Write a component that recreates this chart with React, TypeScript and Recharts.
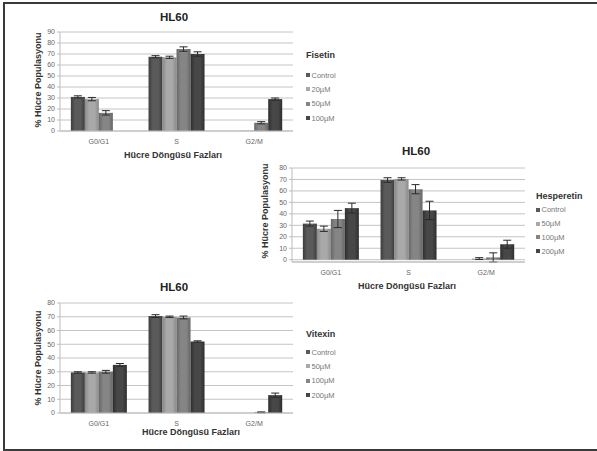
import React from 'react';
import { BarChart, Bar, XAxis, YAxis, CartesianGrid, ErrorBar } from 'recharts';

const phases = ['G0/G1', 'S', 'G2/M'];
const chartTitle = 'HL60';
const xTitle = 'Hücre Döngüsü Fazları';
const yTitle = '% Hücre Populasyonu';

// Fisetin
const fisetinDoses = ['Control', '20µM', '50µM', '100µM'];
const fisetinControl = [31, 67.5, 0];
const fisetin20 = [29, 67, 0.3];
const fisetin50 = [16.5, 74.5, 7.5];
const fisetin100 = [0, 70, 29];
const fisetinControlErr = [1, 1, 0];
const fisetin20Err = [1.5, 1, 0];
const fisetin50Err = [2, 2, 1];
const fisetin100Err = [0, 2, 1];
const fisetinTicks = [0, 10, 20, 30, 40, 50, 60, 70, 80, 90];

// Hesperetin
const hesperetinDoses = ['Control', '50µM', '100µM', '200µM'];
const hesperetinControl = [31.5, 69.5, 0];
const hesperetin50 = [27, 70.5, 1];
const hesperetin100 = [35.5, 61.5, 2];
const hesperetin200 = [45, 43, 13.5];
const hesperetinControlErr = [2.2, 2, 0];
const hesperetin50Err = [2.3, 1, 0.8];
const hesperetin100Err = [7.5, 4, 4];
const hesperetin200Err = [4.3, 8, 3.5];
const hesperetinTicks = [0, 10, 20, 30, 40, 50, 60, 70, 80];

// Vitexin
const vitexinDoses = ['Control', '50µM', '100µM', '200µM'];
const vitexinControl = [29.5, 70.5, 0];
const vitexin50 = [29.5, 70, 0];
const vitexin100 = [30, 69.5, 0.5];
const vitexin200 = [35, 52, 13];
const vitexinControlErr = [0.5, 1, 0];
const vitexin50Err = [0.5, 0.5, 0];
const vitexin100Err = [1, 1, 0.3];
const vitexin200Err = [1, 0.5, 1.5];
const vitexinTicks = [0, 10, 20, 30, 40, 50, 60, 70, 80];

const barColors = ['#5a5a5a', '#a9a9a9', '#858585', '#474747'];
const edgeColors = ['#3c3c3c', '#8a8a8a', '#666666', '#2e2e2e'];

const FONT = '"Liberation Sans", Arial, sans-serif';

function buildRows(series: number[][], errs: number[][]) {
  return phases.map((p, i) => {
    const row: any = { phase: p };
    series.forEach((s, k) => {
      row['v' + k] = s[i];
      row['e' + k] = errs[k][i];
    });
    return row;
  });
}

type PanelProps = {
  id: string;
  left: number;
  top: number;
  width: number;
  height: number;
  margin: { top: number; right: number; left: number; bottom: number };
  rows: any[];
  yMax: number;
  ticks: number[];
  doses: string[];
  legendTitle: string;
  titlePos: [number, number];
  xTitlePos: [number, number];
  yTitlePos: [number, number];
  legendPos: [number, number];
  legendStep: number;
  legendGap: number;
};

function Panel(p: PanelProps) {
  return (
    <>
      <div style={{ position: 'absolute', left: p.left, top: p.top }}>
        <BarChart
          width={p.width}
          height={p.height}
          data={p.rows}
          margin={p.margin}
          barCategoryGap="14%"
          barGap={0}
        >
          <defs>
            {barColors.map((c, k) => (
              <linearGradient key={k} id={`${p.id}g${k}`} x1="0" y1="0" x2="1" y2="0">
                <stop offset="0%" stopColor={edgeColors[k]} />
                <stop offset="30%" stopColor={c} />
                <stop offset="70%" stopColor={c} />
                <stop offset="100%" stopColor={edgeColors[k]} />
              </linearGradient>
            ))}
          </defs>
          <CartesianGrid vertical={false} stroke="#c4c4c4" strokeWidth={1} />
          <XAxis
            dataKey="phase"
            height={12}
            tick={{ fontSize: 7, fill: '#666', fontFamily: FONT }}
            axisLine={{ stroke: '#bdbdbd' }}
            tickLine={false}
            interval={0}
          />
          <YAxis
            width={30}
            domain={[0, p.yMax]}
            ticks={p.ticks}
            tick={{ fontSize: 7, fill: '#666', fontFamily: FONT }}
            axisLine={{ stroke: '#bdbdbd' }}
            tickLine={{ stroke: '#bdbdbd' }}
            tickSize={3}
            interval={0}
          />
          {p.doses.map((d, k) => (
            <Bar
              key={k}
              dataKey={'v' + k}
              name={d}
              fill={`url(#${p.id}g${k})`}
              isAnimationActive={false}
            >
              <ErrorBar dataKey={'e' + k} width={4} stroke="#2a2a2a" strokeWidth={1} direction="y" />
            </Bar>
          ))}
        </BarChart>
      </div>
      <div
        style={{
          position: 'absolute',
          left: p.titlePos[0],
          top: p.titlePos[1],
          transform: 'translate(-50%, -50%)',
          fontFamily: FONT,
          fontWeight: 'bold',
          fontSize: 11.5,
          color: '#222',
          whiteSpace: 'nowrap',
        }}
      >
        {chartTitle}
      </div>
      <div
        style={{
          position: 'absolute',
          left: p.xTitlePos[0],
          top: p.xTitlePos[1],
          transform: 'translate(-50%, -50%)',
          fontFamily: FONT,
          fontWeight: 'bold',
          fontSize: 9,
          color: '#333',
          whiteSpace: 'nowrap',
        }}
      >
        {xTitle}
      </div>
      <div
        style={{
          position: 'absolute',
          left: p.yTitlePos[0],
          top: p.yTitlePos[1],
          transform: 'translate(-50%, -50%) rotate(-90deg)',
          fontFamily: FONT,
          fontWeight: 'bold',
          fontSize: 9,
          color: '#333',
          whiteSpace: 'nowrap',
        }}
      >
        {yTitle}
      </div>
      <div
        style={{
          position: 'absolute',
          left: p.legendPos[0],
          top: p.legendPos[1],
          fontFamily: FONT,
          whiteSpace: 'nowrap',
        }}
      >
        <div
          style={{
            fontWeight: 'bold',
            fontSize: 9,
            color: '#333',
            height: 14,
            lineHeight: '14px',
            marginBottom: p.legendGap,
          }}
        >
          {p.legendTitle}
        </div>
        {p.doses.map((d, k) => (
          <div
            key={k}
            style={{
              display: 'flex',
              alignItems: 'center',
              height: p.legendStep,
              fontSize: 7.5,
              color: '#777',
            }}
          >
            <span
              style={{
                display: 'inline-block',
                width: 4,
                height: 4,
                background: barColors[k],
                marginRight: 1.5,
              }}
            />
            {d}
          </div>
        ))}
      </div>
    </>
  );
}

export default function App() {
  const fRows = buildRows(
    [fisetinControl, fisetin20, fisetin50, fisetin100],
    [fisetinControlErr, fisetin20Err, fisetin50Err, fisetin100Err]
  );
  const hRows = buildRows(
    [hesperetinControl, hesperetin50, hesperetin100, hesperetin200],
    [hesperetinControlErr, hesperetin50Err, hesperetin100Err, hesperetin200Err]
  );
  const vRows = buildRows(
    [vitexinControl, vitexin50, vitexin100, vitexin200],
    [vitexinControlErr, vitexin50Err, vitexin100Err, vitexin200Err]
  );
  return (
    <div
      style={{
        position: 'absolute',
        left: 0,
        top: 0,
        width: 597,
        height: 451,
        background: '#fff',
        overflow: 'hidden',
      }}
    >
      <div
        style={{
          position: 'absolute',
          left: 3,
          top: 2,
          width: 620,
          height: 449,
          boxSizing: 'border-box',
          border: '2px solid #3a3a3a',
        }}
      />
      <Panel
        id="f"
        left={0}
        top={0}
        width={300}
        height={170}
        margin={{ top: 32, right: 7, left: 30, bottom: 27 }}
        rows={fRows}
        yMax={90}
        ticks={fisetinTicks}
        doses={fisetinDoses}
        legendTitle="Fisetin"
        titlePos={[174, 17]}
        xTitlePos={[173, 155]}
        yTitlePos={[38, 80]}
        legendPos={[306, 48]}
        legendStep={14.3}
        legendGap={6}
      />
      <Panel
        id="h"
        left={260}
        top={140}
        width={270}
        height={140}
        margin={{ top: 28, right: 5, left: 2, bottom: 6 }}
        rows={hRows}
        yMax={80}
        ticks={hesperetinTicks}
        doses={hesperetinDoses}
        legendTitle="Hesperetin"
        titlePos={[416, 151]}
        xTitlePos={[407, 286]}
        yTitlePos={[265, 211]}
        legendPos={[536, 189]}
        legendStep={13.8}
        legendGap={0}
      />
      <Panel
        id="v"
        left={0}
        top={270}
        width={300}
        height={160}
        margin={{ top: 33, right: 7, left: 30, bottom: 5 }}
        rows={vRows}
        yMax={80}
        ticks={vitexinTicks}
        doses={vitexinDoses}
        legendTitle="Vitexin"
        titlePos={[174, 287]}
        xTitlePos={[191, 432]}
        yTitlePos={[38, 358]}
        legendPos={[306, 327]}
        legendStep={14.3}
        legendGap={4}
      />
    </div>
  );
}
